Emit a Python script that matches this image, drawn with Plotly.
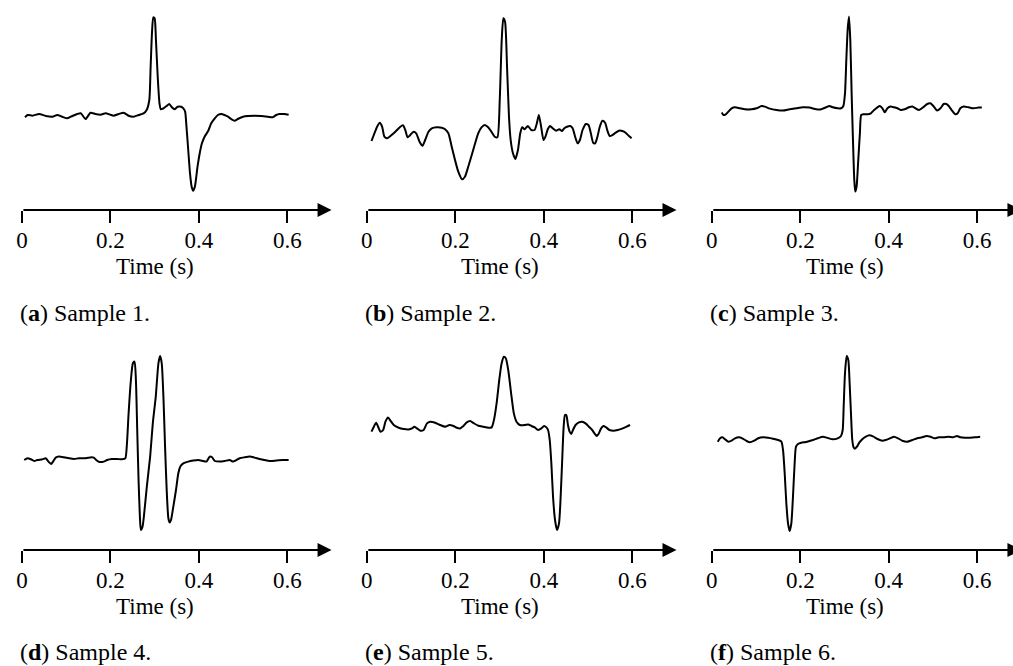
import plotly.graph_objects as go

# ---------------- data (time in s, amplitude in arbitrary units) ----------------
t_a = [0.007, 0.013, 0.024, 0.039, 0.054, 0.069, 0.080, 0.091, 0.103, 0.114, 0.125, 0.133, 0.144, 0.155,
       0.166, 0.178, 0.189, 0.200, 0.207, 0.219, 0.230, 0.241, 0.252, 0.264, 0.275, 0.282, 0.288, 0.291,
       0.294, 0.297, 0.300, 0.303, 0.307, 0.311, 0.314, 0.320, 0.327, 0.333, 0.339, 0.345, 0.352, 0.360,
       0.365, 0.369, 0.372, 0.376, 0.380, 0.384, 0.387, 0.391, 0.397, 0.402, 0.407, 0.413, 0.421, 0.428,
       0.436, 0.443, 0.451, 0.458, 0.466, 0.473, 0.481, 0.488, 0.500, 0.511, 0.526, 0.541, 0.556, 0.567,
       0.575, 0.582, 0.593, 0.603]
v_a = [-0.023, 0.0, -0.007, 0.010, -0.010, -0.017, 0.0, -0.017, -0.033, -0.010, 0.010, 0.017, -0.040, 0.023,
       0.010, 0.003, 0.017, 0.003, -0.007, 0.010, 0.023, -0.007, -0.017, 0.0, 0.017, 0.050, 0.150, 0.483,
       0.817, 0.977, 0.967, 0.750, 0.383, 0.117, 0.057, 0.067, 0.090, 0.110, 0.077, 0.057, 0.083, 0.083,
       0.067, 0.033, -0.117, -0.350, -0.583, -0.723, -0.757, -0.717, -0.517, -0.383, -0.283, -0.217, -0.160, -0.083,
       -0.033, 0.0, 0.010, 0.0, -0.017, -0.040, -0.057, -0.040, -0.017, -0.010, -0.007, -0.010, -0.017, -0.023,
       0.0, 0.010, 0.010, 0.003]

t_b = [0.0105, 0.0157, 0.0232, 0.0292, 0.0345, 0.0397, 0.0457, 0.0532, 0.0644, 0.0757, 0.0816, 0.0869,
       0.0921, 0.0981, 0.1056, 0.1116, 0.1191, 0.1258, 0.1318, 0.1393, 0.1468, 0.1581, 0.1693, 0.1768,
       0.1843, 0.1918, 0.1993, 0.2067, 0.2150, 0.2217, 0.2292, 0.2404, 0.2517, 0.2592, 0.2667, 0.2742,
       0.2816, 0.2891, 0.2951, 0.3004, 0.3049, 0.3086, 0.3124, 0.3169, 0.3213, 0.3251, 0.3303, 0.3356,
       0.3416, 0.3468, 0.3513, 0.3566, 0.3640, 0.3715, 0.3790, 0.3843, 0.3888, 0.3940, 0.3993, 0.4037,
       0.4090, 0.4142, 0.4202, 0.4277, 0.4352, 0.4412, 0.4464, 0.4524, 0.4599, 0.4652, 0.4712, 0.4764,
       0.4816, 0.4876, 0.4951, 0.5011, 0.5064, 0.5116, 0.5161, 0.5213, 0.5266, 0.5326, 0.5386, 0.5438,
       0.5491, 0.5551, 0.5625, 0.5700, 0.5775, 0.5850, 0.5925, 0.5985]
v_b = [-0.060, 0.0, 0.083, 0.123, 0.083, -0.017, -0.033, -0.010, 0.033, 0.083, 0.097, 0.050,
       -0.023, 0.0, 0.033, 0.017, -0.067, -0.107, -0.050, 0.033, 0.067, 0.077, 0.073, 0.057,
       0.017, -0.117, -0.250, -0.367, -0.443, -0.417, -0.317, -0.150, 0.017, 0.077, 0.100, 0.077,
       0.033, -0.017, -0.023, 0.350, 0.950, 1.167, 1.133, 0.683, 0.183, -0.050, -0.183, -0.240,
       -0.150, 0.017, 0.077, 0.057, 0.090, 0.050, 0.050, 0.117, 0.200, 0.083, -0.050, -0.017,
       0.057, 0.090, 0.067, 0.043, 0.057, 0.040, 0.067, 0.083, 0.090, 0.067, -0.023, -0.083,
       -0.050, 0.050, 0.110, 0.100, 0.017, -0.077, -0.083, -0.017, 0.083, 0.143, 0.123, 0.043,
       -0.010, 0.0, 0.023, 0.043, 0.040, 0.023, -0.010, -0.033]

t_c = [0.0225, 0.0262, 0.0315, 0.0375, 0.0449, 0.0524, 0.0637, 0.0749, 0.0899, 0.1011, 0.1124, 0.1199,
       0.1311, 0.1461, 0.1610, 0.1760, 0.1910, 0.2060, 0.2210, 0.2360, 0.2472, 0.2584, 0.2659, 0.2734,
       0.2846, 0.2921, 0.2974, 0.3011, 0.3041, 0.3071, 0.3101, 0.3131, 0.3161, 0.3191, 0.3221, 0.3243,
       0.3273, 0.3311, 0.3348, 0.3378, 0.3431, 0.3521, 0.3596, 0.3670, 0.3745, 0.3798, 0.3858, 0.3910,
       0.3970, 0.4045, 0.4120, 0.4195, 0.4270, 0.4360, 0.4457, 0.4532, 0.4607, 0.4682, 0.4779, 0.4869,
       0.4944, 0.5019, 0.5094, 0.5169, 0.5243, 0.5303, 0.5356, 0.5431, 0.5506, 0.5558, 0.5618, 0.5693,
       0.5805, 0.5918, 0.6030, 0.6105]
v_c = [-0.043, -0.067, -0.060, -0.033, 0.0, 0.010, 0.0, -0.010, -0.010, 0.0, 0.023, 0.017,
       -0.003, -0.017, -0.023, -0.010, 0.0, 0.010, 0.007, -0.010, -0.010, 0.010, 0.023, 0.010,
       0.0, 0.0, 0.023, 0.150, 0.483, 0.783, 0.917, 0.683, 0.150, -0.317, -0.717, -0.833,
       -0.783, -0.517, -0.250, -0.067, -0.060, -0.060, -0.050, -0.017, 0.010, 0.023, 0.0, -0.040,
       0.0, 0.017, 0.010, 0.0, -0.017, -0.010, 0.010, 0.017, 0.0, -0.017, 0.010, 0.043,
       0.050, 0.017, -0.023, 0.0, 0.043, 0.043, 0.023, -0.023, -0.060, -0.050, 0.0, 0.017,
       0.010, 0.0, 0.007, 0.007]

t_d = [0.0052, 0.0127, 0.0202, 0.0277, 0.0352, 0.0464, 0.0539, 0.0599, 0.0659, 0.0704, 0.0764, 0.0839,
       0.0951, 0.1064, 0.1176, 0.1288, 0.1438, 0.1573, 0.1625, 0.1678, 0.1753, 0.1850, 0.1925, 0.2037,
       0.2150, 0.2262, 0.2337, 0.2375, 0.2412, 0.2464, 0.2509, 0.2547, 0.2577, 0.2607, 0.2637, 0.2667,
       0.2689, 0.2727, 0.2772, 0.2824, 0.2899, 0.2959, 0.3026, 0.3086, 0.3124, 0.3161, 0.3199, 0.3236,
       0.3273, 0.3311, 0.3341, 0.3371, 0.3423, 0.3483, 0.3536, 0.3581, 0.3648, 0.3760, 0.3873, 0.3985,
       0.4097, 0.4172, 0.4247, 0.4300, 0.4360, 0.4472, 0.4584, 0.4697, 0.4772, 0.4831, 0.4921, 0.5034,
       0.5146, 0.5258, 0.5371, 0.5483, 0.5596, 0.5745, 0.5895, 0.6030]
v_d = [-0.007, 0.010, 0.0, -0.017, -0.007, 0.0, 0.010, -0.023, -0.047, -0.023, 0.017, 0.027,
       0.020, 0.010, 0.003, 0.010, 0.010, 0.020, 0.017, -0.007, -0.027, -0.023, -0.007, 0.003,
       0.003, 0.0, 0.010, 0.160, 0.460, 0.793, 0.960, 0.977, 0.793, 0.293, -0.207, -0.573,
       -0.707, -0.673, -0.507, -0.273, 0.027, 0.360, 0.627, 0.960, 1.033, 0.960, 0.627, 0.127,
       -0.307, -0.590, -0.633, -0.607, -0.473, -0.307, -0.140, -0.073, -0.040, -0.023, -0.013, -0.007,
       -0.017, -0.023, 0.027, 0.020, -0.017, -0.023, -0.017, -0.007, -0.023, -0.013, 0.010, 0.020,
       0.027, 0.017, 0.003, -0.007, -0.017, -0.013, -0.007, -0.007]

t_e = [0.0105, 0.0158, 0.0210, 0.0255, 0.0308, 0.0368, 0.0420, 0.0480, 0.0533, 0.0608, 0.0720, 0.0833,
       0.0945, 0.1020, 0.1073, 0.1133, 0.1208, 0.1283, 0.1358, 0.1433, 0.1545, 0.1658, 0.1770, 0.1868,
       0.1958, 0.2033, 0.2108, 0.2183, 0.2258, 0.2333, 0.2423, 0.2521, 0.2633, 0.2746, 0.2821, 0.2873,
       0.2933, 0.2993, 0.3046, 0.3098, 0.3143, 0.3196, 0.3271, 0.3323, 0.3383, 0.3458, 0.3571, 0.3646,
       0.3721, 0.3796, 0.3871, 0.3946, 0.4006, 0.4059, 0.4096, 0.4134, 0.4171, 0.4209, 0.4254, 0.4299,
       0.4344, 0.4381, 0.4419, 0.4449, 0.4479, 0.4509, 0.4546, 0.4584, 0.4621, 0.4659, 0.4719, 0.4794,
       0.4869, 0.4944, 0.5019, 0.5094, 0.5146, 0.5199, 0.5244, 0.5296, 0.5349, 0.5409, 0.5484, 0.5574,
       0.5671, 0.5784, 0.5874, 0.5949]
v_e = [-0.040, 0.010, 0.050, 0.010, -0.040, -0.023, 0.060, 0.103, 0.070, 0.027, 0.0, -0.013,
       -0.017, -0.007, 0.010, -0.007, -0.030, -0.023, 0.043, 0.060, 0.050, 0.027, 0.010, 0.027,
       0.017, 0.0, -0.007, 0.017, 0.053, 0.067, 0.043, 0.020, 0.010, 0.0, 0.003, 0.077,
       0.243, 0.477, 0.643, 0.710, 0.693, 0.577, 0.310, 0.143, 0.060, 0.027, 0.027, 0.033,
       0.017, 0.003, -0.023, -0.007, 0.017, 0.003, -0.023, -0.123, -0.357, -0.690, -0.923, -1.023,
       -0.957, -0.690, -0.290, 0.010, 0.127, 0.127, 0.027, -0.040, -0.063, -0.023, 0.027, 0.053,
       0.060, 0.043, 0.010, -0.023, -0.057, -0.083, -0.057, -0.007, 0.017, 0.003, -0.023, -0.030,
       -0.023, -0.007, 0.010, 0.027]

t_f = [0.0135, 0.0187, 0.0240, 0.0300, 0.0375, 0.0449, 0.0524, 0.0614, 0.0689, 0.0787, 0.0861, 0.0959,
       0.1049, 0.1161, 0.1273, 0.1386, 0.1498, 0.1573, 0.1610, 0.1648, 0.1685, 0.1723, 0.1760, 0.1798,
       0.1835, 0.1873, 0.1903, 0.1948, 0.2022, 0.2135, 0.2210, 0.2285, 0.2397, 0.2509, 0.2622, 0.2734,
       0.2846, 0.2921, 0.2959, 0.2981, 0.3011, 0.3049, 0.3086, 0.3116, 0.3146, 0.3176, 0.3206, 0.3236,
       0.3281, 0.3333, 0.3408, 0.3483, 0.3558, 0.3655, 0.3745, 0.3858, 0.3933, 0.4030, 0.4120, 0.4210,
       0.4307, 0.4419, 0.4532, 0.4644, 0.4757, 0.4854, 0.4944, 0.5034, 0.5131, 0.5243, 0.5356, 0.5453,
       0.5543, 0.5618, 0.5730, 0.5843, 0.5955, 0.6067]
v_f = [-0.017, 0.017, 0.027, 0.007, -0.017, -0.007, 0.017, 0.027, 0.017, -0.010, -0.023, -0.007,
       0.017, 0.027, 0.023, 0.013, 0.0, -0.017, -0.100, -0.333, -0.633, -0.833, -0.910, -0.833,
       -0.567, -0.233, -0.067, -0.040, -0.027, -0.020, -0.010, 0.0, 0.017, 0.033, 0.020, 0.007,
       0.017, 0.040, 0.100, 0.333, 0.667, 0.840, 0.800, 0.567, 0.267, 0.0, -0.073, -0.087,
       -0.067, -0.027, 0.010, 0.033, 0.047, 0.033, 0.010, -0.007, 0.0, 0.017, 0.033, 0.017,
       -0.007, -0.017, 0.0, 0.017, 0.027, 0.040, 0.033, 0.017, 0.027, 0.027, 0.033, 0.027,
       0.040, 0.027, 0.023, 0.023, 0.027, 0.033]

letters = ["a", "b", "c", "d", "e", "f"]
captions = ["Sample 1.", "Sample 2.", "Sample 3.", "Sample 4.", "Sample 5.", "Sample 6."]
tick_vals = [0, 0.2, 0.4, 0.6]
tick_text = ["0", "0.2", "0.4", "0.6"]
x_title = "Time (s)"
series = [(t_a, v_a), (t_b, v_b), (t_c, v_c), (t_d, v_d), (t_e, v_e), (t_f, v_f)]

# ---------------- layout geometry ----------------
W, H = 1013, 666
FONT = "Liberation Serif"
PX_PER_S = 445.0
PX_PER_UNIT = 100.0
col_x0 = [16, 363, 710]
rows = [dict(axis=210, top=0, title=266, cap=313), dict(axis=550, top=340, title=606, cap=652)]
baselines = [115, 135, 108.3, 459.3, 427.7, 440]

fig = go.Figure()
layout = dict(
    width=W, height=H, margin=dict(l=0, r=0, t=0, b=0),
    paper_bgcolor="white", plot_bgcolor="white", showlegend=False,
    font=dict(family=FONT, color="black", size=23),
)
annotations = []
for i in range(6):
    r = rows[i // 3]
    x0 = col_x0[i % 3]
    n = "" if i == 0 else str(i + 1)
    xend = min(W, x0 + 0.7 * PX_PER_S)
    xr = (xend - x0) / PX_PER_S
    B = baselines[i]
    ymax = (B - r["top"]) / PX_PER_UNIT
    ymin = (B - r["axis"]) / PX_PER_UNIT
    t, v = series[i]
    fig.add_trace(go.Scatter(
        x=t, y=v, mode="lines", xaxis="x" + n, yaxis="y" + n,
        line=dict(color="black", width=2, shape="spline", smoothing=0.6),
        hoverinfo="skip", cliponaxis=False,
    ))
    layout["xaxis" + n] = dict(
        domain=[x0 / W, xend / W], range=[0, xr], anchor="y" + n,
        showgrid=False, zeroline=False, showline=False,
        ticks="outside", ticklen=12, tickwidth=2, tickcolor="black",
        tickvals=tick_vals, ticktext=tick_text, ticklabelstandoff=-3,
        tickfont=dict(family=FONT, size=23, color="black"), fixedrange=True,
    )
    layout["yaxis" + n] = dict(
        domain=[1 - r["axis"] / H, 1 - r["top"] / H], range=[ymin, ymax],
        anchor="x" + n, visible=False, fixedrange=True,
    )
    # axis arrow
    annotations.append(dict(
        x=0.7, y=ymin, ax=0, ay=ymin, xref="x" + n, yref="y" + n,
        axref="x" + n, ayref="y" + n, text="", showarrow=True,
        arrowhead=2, arrowsize=1.4, arrowwidth=2, arrowcolor="black", standoff=0,
    ))
    # axis title
    annotations.append(dict(
        x=0.3, y=1 - r["title"] / H, xref="x" + n, yref="paper", text=x_title,
        showarrow=False, xanchor="center", yanchor="middle",
        font=dict(family=FONT, size=23, color="black"),
    ))
    # caption
    annotations.append(dict(
        x=(x0 - 4) / W, y=1 - r["cap"] / H, xref="paper", yref="paper",
        text="(<b>" + letters[i] + "</b>) " + captions[i],
        showarrow=False, xanchor="left", yanchor="middle",
        font=dict(family=FONT, size=24, color="black"),
    ))
layout["annotations"] = annotations
fig.update_layout(**layout)
fig.write_html(
    "out.html",
    config={"displayModeBar": False},
    post_script="document.body.style.margin='0';document.body.style.overflow='hidden';",
)
